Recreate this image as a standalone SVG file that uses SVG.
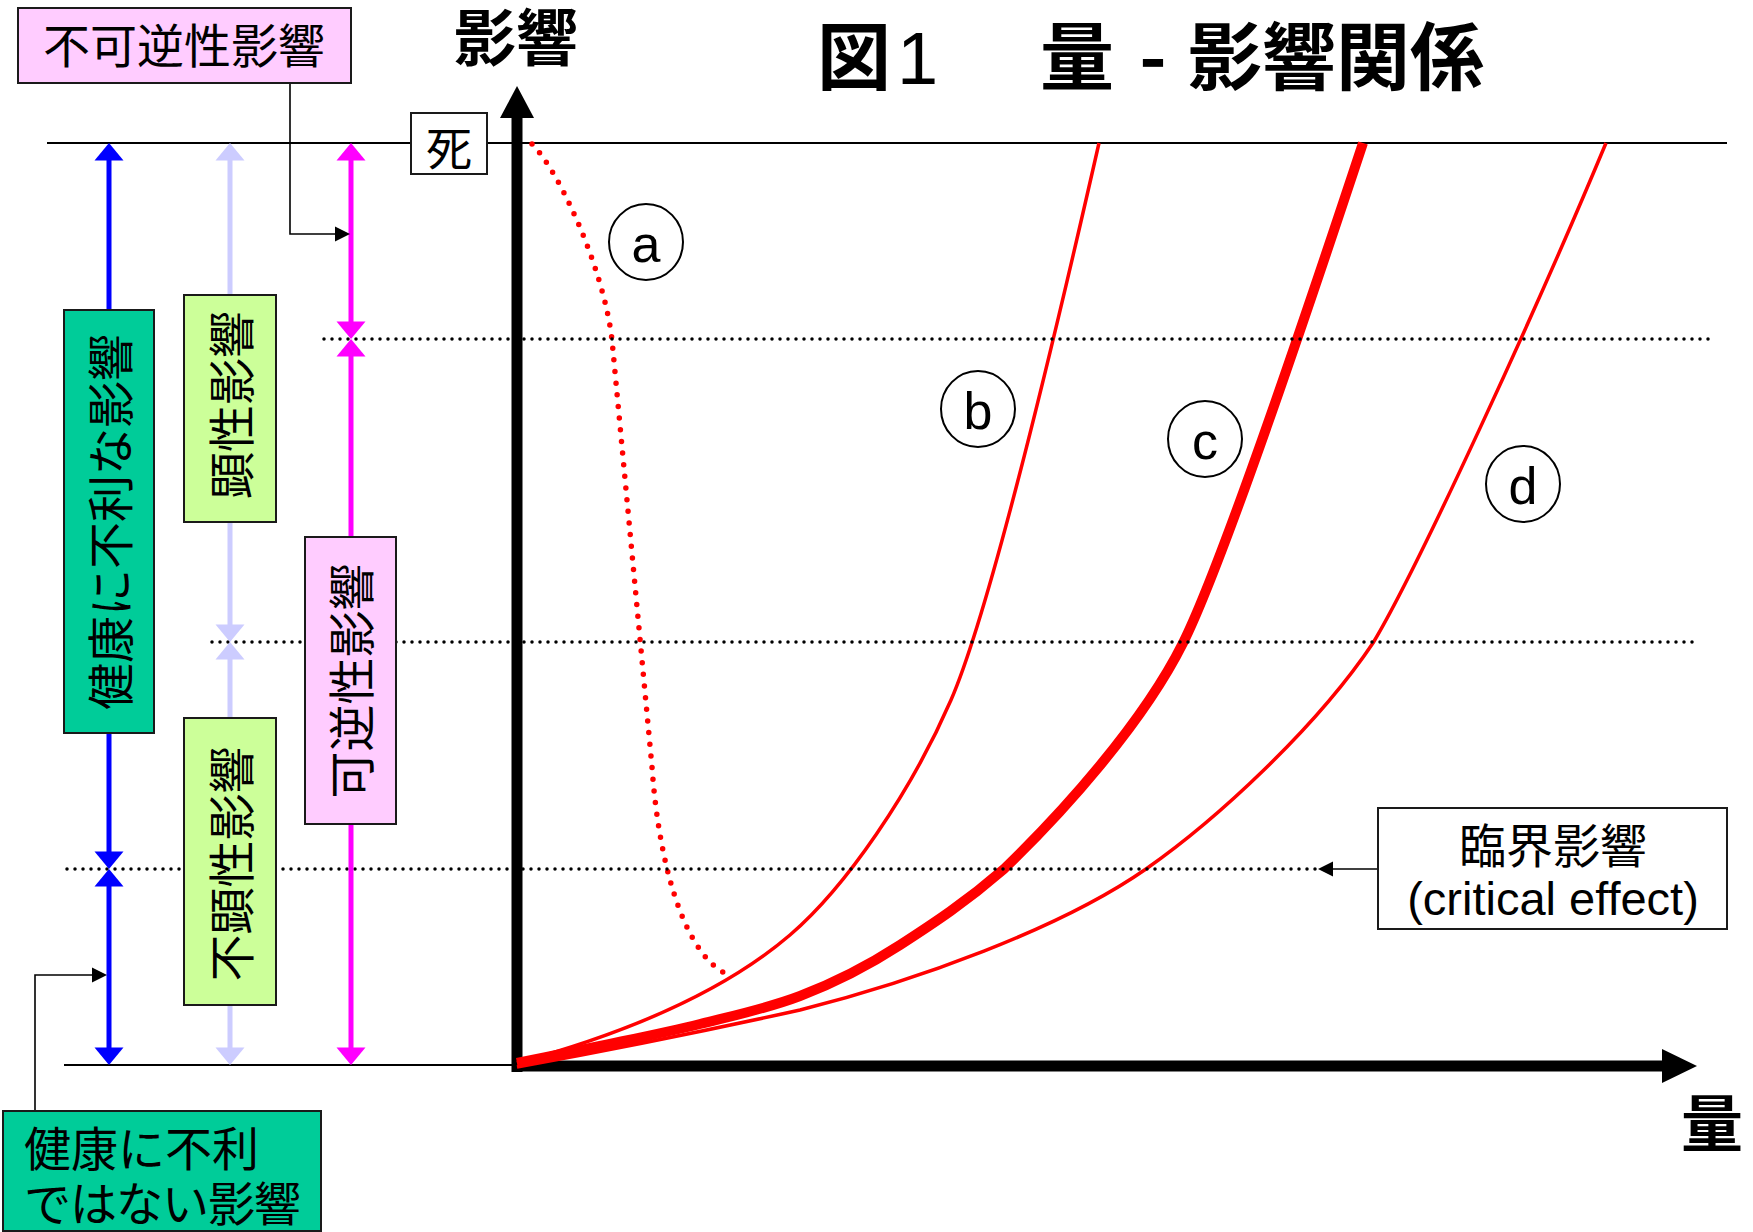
<svg xmlns="http://www.w3.org/2000/svg" xmlns:xlink="http://www.w3.org/1999/xlink" width="1753" height="1232" viewBox="0 0 1753 1232">
<style>
.jp { font-family: "Noto Sans CJK JP", "Noto Sans CJK SC", sans-serif; }
.lat { font-family: "Liberation Sans", Arial, sans-serif; }
.bold { font-weight: 700; }
.box { stroke: #1a1a1a; stroke-width: 2; }
.dot { stroke: #000; stroke-width: 3.5; stroke-dasharray: 0 8; stroke-linecap: round; fill: none; }
.red { stroke: #FF0000; fill: none; }
.thin { stroke: #000; stroke-width: 2; fill: none; }
.conn { stroke: #000; stroke-width: 1.6; fill: none; }
.lbl { font-size: 47px; }
.circ { fill: #fff; stroke: #000; stroke-width: 2; }
</style>
<defs>
<path id="ahUp" d="M0,0 L-14.5,17.5 L14.5,17.5 Z"/>
<path id="ahDown" d="M0,0 L-14.5,-17.5 L14.5,-17.5 Z"/>
<path id="ahRight" d="M0,0 L-15,-7.5 L-15,7.5 Z"/>
<path id="ahLeft" d="M0,0 L15,-7.5 L15,7.5 Z"/>
</defs>
<rect width="1753" height="1232" fill="#fff"/>

<!-- title -->
<g id="title">
<text class="jp bold" font-size="74" x="817" y="84">図</text>
<text class="lat" font-size="74" x="897" y="84">1</text>
<text class="jp bold" font-size="74" x="1040" y="84">量</text>
<text class="jp bold" font-size="74" x="1153" y="84" text-anchor="middle">-</text>
<text class="jp bold" font-size="74" x="1188" y="84">影響関係</text>
</g>

<!-- reference lines -->
<g id="levels">
<line class="thin" x1="47" y1="143" x2="1727" y2="143"/>
<line class="thin" x1="64" y1="1065" x2="517" y2="1065"/>
</g>

<!-- axes -->
<g id="axes">
<line x1="517" y1="1072" x2="517" y2="114" stroke="#000" stroke-width="11"/>
<path d="M517,86 L500,118 L534,118 Z" fill="#000"/>
<line x1="512" y1="1066" x2="1665" y2="1066" stroke="#000" stroke-width="11"/>
<path d="M1697,1066 L1662,1049 L1662,1083 Z" fill="#000"/>
<text class="jp bold" font-size="62" x="454" y="61">影響</text>
<text class="jp bold" font-size="62" x="1681" y="1147">量</text>
</g>

<!-- curves -->
<g id="curves">
<path id="curve-a" class="red" stroke-width="5.5" stroke-linecap="round" stroke-dasharray="0 11.7" d="M532,144 C560,172 604,270 612,340 L652,767 C660,880 690,960 729,975"/>
<path id="curve-b" class="red" stroke-width="3.5" d="M517,1063 C620,1035 720,995 790,935 C846,887 911,792 951,700 C981,631 1029,451 1099,143"/>
<path id="curve-c" class="red" stroke-width="10" d="M517,1063 C544.7,1057.3 569.5,1052.5 600,1046 C630.5,1039.5 666.7,1032.3 700,1024 C733.3,1015.7 766.7,1008.7 800,996 C833.3,983.3 866,967 900,945 C934,923 966,902 1004,869 C1064,811 1143,723 1183,643 C1223,563 1318,279 1363,143"/>
<path id="curve-d" class="red" stroke-width="3.5" d="M517,1067 C610,1050 710,1030 800,1010 C915,981 1060,929 1146,869 C1216,820 1316,728 1373,643 C1418,568 1536,311 1606,143"/>
</g>

<!-- dotted threshold lines -->
<g id="dotted">
<line class="dot" x1="324" y1="339" x2="1713" y2="339"/>
<line class="dot" x1="212" y1="642" x2="1699" y2="642"/>
<line class="dot" x1="67" y1="869" x2="1316" y2="869"/>
</g>

<!-- curve labels -->
<g id="label-a"><ellipse class="circ" cx="646" cy="242" rx="37" ry="38"/><text class="lat" font-size="52" x="646" y="262" text-anchor="middle">a</text></g>
<g id="label-b"><ellipse class="circ" cx="978" cy="409" rx="37" ry="38"/><text class="lat" font-size="52" x="978" y="429" text-anchor="middle">b</text></g>
<g id="label-c"><ellipse class="circ" cx="1205" cy="439" rx="37" ry="38"/><text class="lat" font-size="52" x="1205" y="459" text-anchor="middle">c</text></g>
<g id="label-d"><ellipse class="circ" cx="1523" cy="484" rx="37" ry="38"/><text class="lat" font-size="52" x="1523" y="504" text-anchor="middle">d</text></g>

<!-- range arrows -->
<g id="range-blue" fill="#0000FF" stroke="#0000FF">
<line x1="109" y1="158" x2="109" y2="854" stroke-width="5"/>
<line x1="109" y1="884" x2="109" y2="1050" stroke-width="5"/>
<use xlink:href="#ahUp" x="109" y="143" stroke="none"/>
<use xlink:href="#ahDown" x="109" y="869" stroke="none"/>
<use xlink:href="#ahUp" x="109" y="869" stroke="none"/>
<use xlink:href="#ahDown" x="109" y="1065" stroke="none"/>
</g>
<g id="range-lavender" fill="#CCCCFF" stroke="#CCCCFF">
<line x1="230" y1="158" x2="230" y2="627" stroke-width="5"/>
<line x1="230" y1="657" x2="230" y2="1050" stroke-width="5"/>
<use xlink:href="#ahUp" x="230" y="143" stroke="none"/>
<use xlink:href="#ahDown" x="230" y="642" stroke="none"/>
<use xlink:href="#ahUp" x="230" y="642" stroke="none"/>
<use xlink:href="#ahDown" x="230" y="1065" stroke="none"/>
</g>
<g id="range-magenta" fill="#FF00FF" stroke="#FF00FF">
<line x1="351" y1="158" x2="351" y2="324" stroke-width="5"/>
<line x1="351" y1="354" x2="351" y2="1050" stroke-width="5"/>
<use xlink:href="#ahUp" x="351" y="143" stroke="none"/>
<use xlink:href="#ahDown" x="351" y="339" stroke="none"/>
<use xlink:href="#ahUp" x="351" y="339" stroke="none"/>
<use xlink:href="#ahDown" x="351" y="1065" stroke="none"/>
</g>

<!-- connectors -->
<g id="connectors" fill="#000">
<path class="conn" d="M290,83 V234 H337"/>
<use xlink:href="#ahRight" x="350" y="234"/>
<path class="conn" d="M35,1111 V975 H94"/>
<use xlink:href="#ahRight" x="107" y="975"/>
<path class="conn" d="M1378,869 H1330"/>
<use xlink:href="#ahLeft" x="1318" y="869"/>
</g>

<!-- nodes -->
<g id="node-irreversible">
<rect class="box" x="18" y="8" width="333" height="75" fill="#FFCCFF"/>
<text class="jp lbl" x="184" y="63" text-anchor="middle">不可逆性影響</text>
</g>
<g id="node-death">
<rect class="box" x="411" y="113" width="76" height="61" fill="#fff"/>
<text class="jp" font-size="46" x="449" y="165" text-anchor="middle">死</text>
</g>
<g id="node-adverse">
<rect class="box" x="64" y="310" width="90" height="423" fill="#00CC99"/>
<text class="jp lbl" transform="translate(110,522) rotate(-90)" x="0" y="18" text-anchor="middle">健康に不利な影響</text>
</g>
<g id="node-overt">
<rect class="box" x="184" y="295" width="92" height="227" fill="#CCFF99"/>
<text class="jp lbl" transform="translate(231,405) rotate(-90)" x="0" y="18" text-anchor="middle">顕性影響</text>
</g>
<g id="node-covert">
<rect class="box" x="184" y="718" width="92" height="287" fill="#CCFF99"/>
<text class="jp lbl" transform="translate(231,864) rotate(-90)" x="0" y="18" text-anchor="middle">不顕性影響</text>
</g>
<g id="node-reversible">
<rect class="box" x="305" y="537" width="91" height="287" fill="#FFCCFF"/>
<text class="jp lbl" transform="translate(351,681) rotate(-90)" x="0" y="18" text-anchor="middle">可逆性影響</text>
</g>
<g id="node-nonadverse">
<rect class="box" x="3" y="1111" width="318" height="120" fill="#00CC99"/>
<text class="jp lbl" x="24" y="1166">健康に不利</text>
<text class="jp lbl" x="24" y="1221" letter-spacing="-1">ではない影響</text>
</g>
<g id="node-critical">
<rect class="box" x="1378" y="808" width="349" height="121" fill="#fff"/>
<text class="jp lbl" x="1553" y="863" text-anchor="middle">臨界影響</text>
<text class="lat" font-size="47" x="1553" y="915" text-anchor="middle">(critical effect)</text>
</g>
</svg>
